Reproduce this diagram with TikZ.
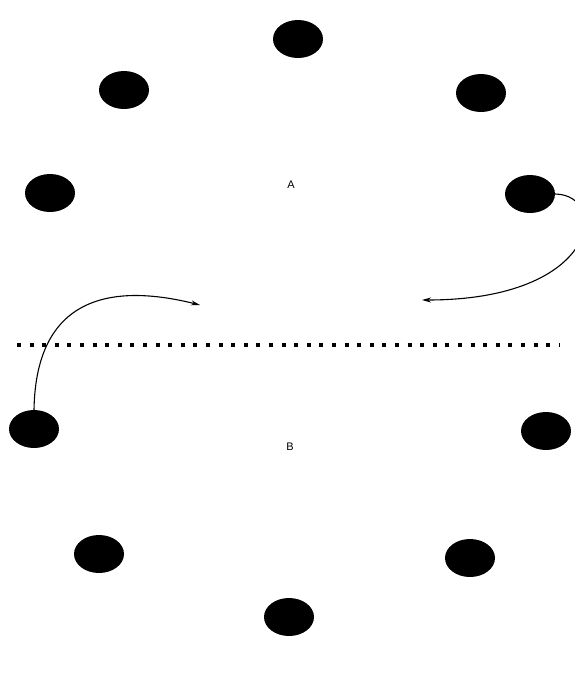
\documentclass[tikz,border=0pt]{standalone}
\usepackage{fontspec}
\setmainfont{Liberation Sans}
\usetikzlibrary{shapes.geometric,arrows.meta}
\begin{document}
\begin{tikzpicture}[x=1pt,y=-1pt,
  dot/.style={ellipse,fill=black,inner sep=0pt,minimum width=50pt,minimum height=38pt},
  lbl/.style={font=\fontsize{11}{13}\selectfont,inner sep=0pt},
  conn/.style={line width=1.1pt,-{Stealth[length=9pt,width=5pt]}},
  sep/.style={line width=4pt,dash pattern=on 4pt off 8.6pt}]
\useasboundingbox (0,0) rectangle (575,675);
\node[dot] (d1) at (298,39) {};
\node[dot] (d2) at (124,90) {};
\node[dot] (d3) at (481,93) {};
\node[dot] (d4) at (50,193) {};
\node[dot] (d5) at (530,194) {};
\node[dot] (d6) at (34,429) {};
\node[dot] (d7) at (546,431) {};
\node[dot] (d8) at (99,554) {};
\node[dot] (d9) at (470,558) {};
\node[dot] (d10) at (289,617) {};
\node[lbl] (A) at (291,185) {A};
\node[lbl] (B) at (290,447) {B};
\coordinate (s1) at (17,345);
\coordinate (s2) at (559,345);
\draw[sep] (s1) -- (s2);
\coordinate (t1) at (200,305);
\coordinate (t2) at (422,300);
\draw[conn] (d6.north) .. controls (36,290) and (120,285) .. (t1);
\draw[conn] (d5.east) .. controls (610,195) and (600,300) .. (t2);
\end{tikzpicture}
\end{document}
